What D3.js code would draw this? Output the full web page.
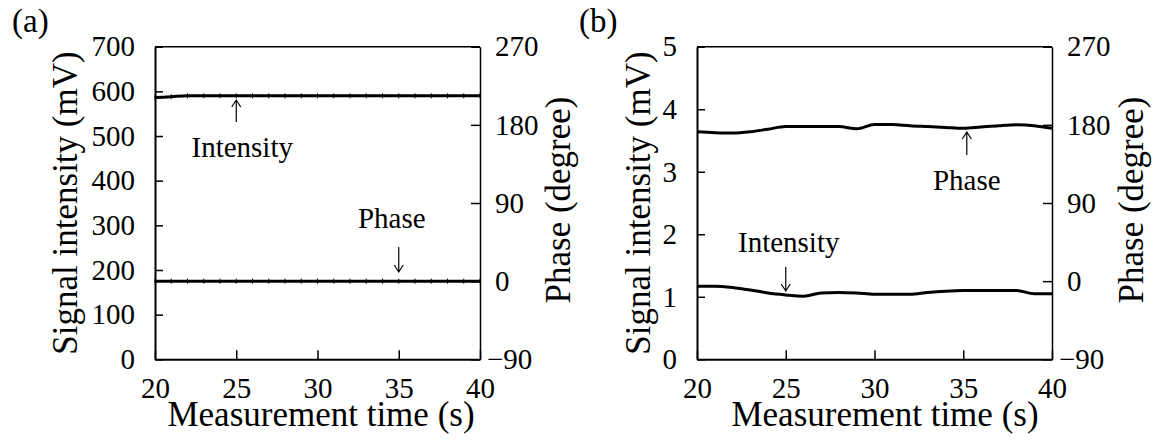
<!DOCTYPE html>
<html>
<head>
<meta charset="utf-8">
<script src="https://cdn.jsdelivr.net/npm/d3@7"></script>
</head>
<body style="margin:0;background:#fff">
<svg id="chart" width="1158" height="445" font-family="Liberation Serif"></svg>
<script>
// x values, seconds
const timeValues = [20, 21, 22, 23, 24, 25, 26, 27, 28, 29, 30, 31, 32, 33, 34, 35, 36, 37, 38, 39, 40];
const timeTicks = [20, 25, 30, 35, 40];

// panel (a)
const intensityA = [586, 588, 590, 590, 590, 590, 590, 590, 590, 590, 590, 590, 590, 590, 590, 590, 590, 590, 590, 590, 590];
const phaseA = [0, 0, 0, 0, 0, 0, 0, 0, 0, 0, 0, 0, 0, 0, 0, 0, 0, 0, 0, 0, 0];
const intensityTicksA = [0, 100, 200, 300, 400, 500, 600, 700];

// panel (b)
const intensityB = [1.17, 1.17, 1.15, 1.11, 1.06, 1.03, 1.01, 1.06, 1.07, 1.06, 1.04, 1.04, 1.04, 1.07, 1.09, 1.10, 1.10, 1.10, 1.10, 1.05, 1.05];
const phaseB = [172, 171, 170.5, 172, 175, 178, 178, 178, 178, 175.5, 180.5, 180.5, 179, 178, 177, 176, 177.5, 179, 180, 179, 176];
const intensityTicksB = [0, 1, 2, 3, 4, 5];

const phaseTicks = [-90, 0, 90, 180, 270];

const FONT = 'Liberation Serif';

const panels = [
    {
        label: '(a)', labelX: 12, left: 155, right: 480, yMax: 700,
        intensityTicks: intensityTicksA, intensity: intensityA, phase: phaseA, markers: true,
        leftTitleX: 77, rightTitleX: 570, xTitleX: 321,
        notes: [
            {text: 'Intensity', t: 25, dir: 'up', tip: 100, tail: 122, textDx: 6, textY: 157},
            {text: 'Phase', t: 35, dir: 'down', tip: 272, tail: 247, textDx: -7, textY: 228}
        ]
    },
    {
        label: '(b)', labelX: 579, left: 697, right: 1052, yMax: 5,
        intensityTicks: intensityTicksB, intensity: intensityB, phase: phaseB, markers: false,
        leftTitleX: 650, rightTitleX: 1143, xTitleX: 885,
        notes: [
            {text: 'Phase', t: 35.2, dir: 'up', tip: 132, tail: 155, textDx: 0, textY: 190},
            {text: 'Intensity', t: 25, dir: 'down', tip: 291, tail: 267, textDx: 3, textY: 252}
        ]
    }
];

const plotTop = 46.7, plotBottom = 359.3;

function styleAxis(g) {
    g.attr('font-family', FONT).attr('font-size', 29);
    g.selectAll('.tick text').attr('font-family', FONT).attr('fill', '#000');
    g.select('.domain').attr('stroke-width', 2);
    g.selectAll('.tick line').attr('stroke-width', 1.5);
}

function addText(svg, size) {
    return svg.append('text')
        .attr('font-family', FONT)
        .attr('font-size', size)
        .attr('fill', '#000');
}

function drawPanel(svg, p) {
    const x = d3.scaleLinear().domain([20, 40]).range([p.left, p.right]);
    const yL = d3.scaleLinear().domain([0, p.yMax]).range([plotBottom, plotTop]);
    const yR = d3.scaleLinear().domain([-90, 270]).range([plotBottom, plotTop]);

    // top border
    svg.append('line')
        .attr('x1', p.left).attr('x2', p.right)
        .attr('y1', plotTop).attr('y2', plotTop)
        .attr('stroke', '#000').attr('stroke-width', 1.5);

    svg.append('g')
        .attr('transform', `translate(0,${plotBottom})`)
        .call(d3.axisBottom(x).tickValues(timeTicks).tickFormat(d3.format('d'))
            .tickSizeInner(-9).tickSizeOuter(0).tickPadding(18))
        .call(styleAxis);

    svg.append('g')
        .attr('transform', `translate(${p.left},0)`)
        .call(d3.axisLeft(yL).tickValues(p.intensityTicks).tickFormat(d3.format('d'))
            .tickSizeInner(-8).tickSizeOuter(0).tickPadding(20))
        .call(styleAxis);

    const right = svg.append('g')
        .attr('transform', `translate(${p.right},0)`)
        .call(d3.axisRight(yR).tickValues(phaseTicks).tickSizeInner(-9).tickSizeOuter(0).tickPadding(15)
            .tickFormat(d => d < 0 ? '\u2212' + Math.abs(d) : d))
        .call(styleAxis);
    right.select('.domain').attr('stroke-width', 1.5);
    right.selectAll('.tick text').filter(d => d < 0).attr('x', 7);

    const line = yScale => d3.line()
        .x((d, i) => x(timeValues[i]))
        .y(d => yScale(d))
        .curve(d3.curveMonotoneX);

    svg.append('path')
        .datum(p.intensity)
        .attr('d', line(yL))
        .attr('fill', 'none').attr('stroke', '#000').attr('stroke-width', 3);

    svg.append('path')
        .datum(p.phase)
        .attr('d', line(yR))
        .attr('fill', 'none').attr('stroke', '#000').attr('stroke-width', 3);

    // small point markers along the lines
    if (p.markers) {
        [[p.intensity, yL], [p.phase, yR]].forEach(([vals, ys]) => {
            svg.append('g').selectAll('line')
                .data(vals)
                .enter()
                .append('line')
                .attr('x1', (d, i) => x(timeValues[i])).attr('x2', (d, i) => x(timeValues[i]))
                .attr('y1', d => ys(d) - 2.5).attr('y2', d => ys(d) + 2.5)
                .attr('stroke', '#000').attr('stroke-width', 1);
        });
    }

    // arrows and their labels
    p.notes.forEach(n => {
        const ax = x(n.t);
        const h = n.dir === 'up' ? 7 : -7;
        svg.append('path')
            .attr('d', `M${ax},${n.tail}L${ax},${n.tip}M${ax - 4.5},${n.tip + h}L${ax},${n.tip}L${ax + 4.5},${n.tip + h}`)
            .attr('fill', 'none').attr('stroke', '#000').attr('stroke-width', 1.2);
        addText(svg, 29)
            .attr('x', ax + n.textDx).attr('y', n.textY)
            .attr('text-anchor', 'middle')
            .text(n.text);
    });

    // titles
    addText(svg, 33)
        .attr('x', p.labelX).attr('y', 32)
        .text(p.label);

    addText(svg, 35)
        .attr('transform', `translate(${p.leftTitleX},${(plotTop + plotBottom) / 2}) rotate(-90)`)
        .attr('text-anchor', 'middle')
        .text('Signal intensity (mV)');

    addText(svg, 35)
        .attr('transform', `translate(${p.rightTitleX},${(plotTop + plotBottom) / 2 - 3}) rotate(-90)`)
        .attr('text-anchor', 'middle')
        .text('Phase (degree)');

    addText(svg, 35)
        .attr('x', p.xTitleX).attr('y', 426)
        .attr('text-anchor', 'middle')
        .text('Measurement time (s)');
}

const svg = d3.select('#chart');
panels.forEach(p => drawPanel(svg, p));
</script>
</body>
</html>
